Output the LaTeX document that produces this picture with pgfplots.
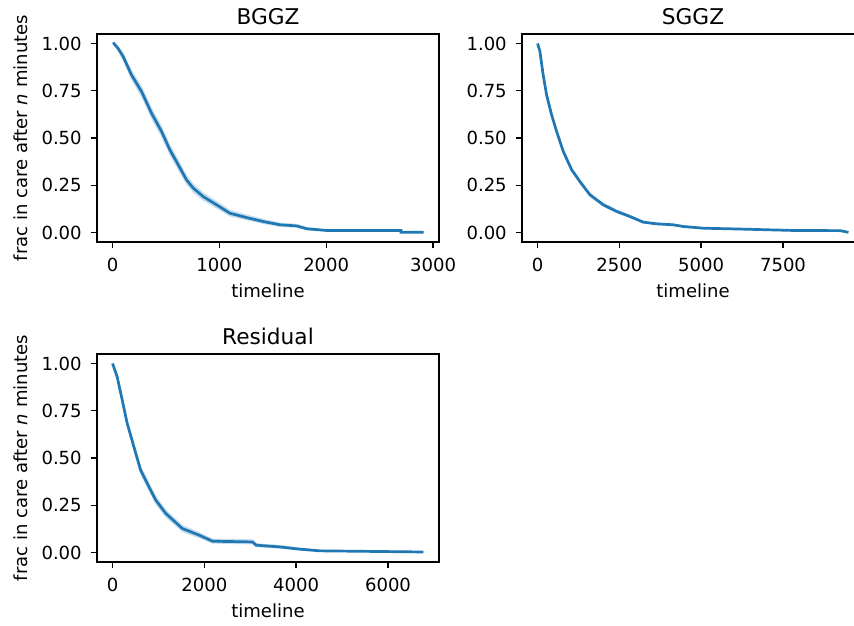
\documentclass[border=0pt]{standalone}
\usepackage{pgfplots}
\usepackage{pgfplotstable}
\pgfplotsset{compat=1.18}
\usepgfplotslibrary{fillbetween}
\usepackage{fontspec}
\setmainfont{DejaVu Sans}
\definecolor{tabblue}{HTML}{1F77B4}

% survival curves: time, estimate, lower and upper band
\pgfplotstableread{
t s lo hi
0 1.000 1.000 1.000
12 1.000 0.995 1.000
50 0.975 0.960 0.990
100 0.930 0.905 0.952
178 0.833 0.805 0.860
272 0.745 0.715 0.775
365 0.631 0.600 0.662
459 0.534 0.503 0.565
537 0.437 0.407 0.467
615 0.358 0.330 0.387
693 0.278 0.252 0.305
755 0.235 0.211 0.260
849 0.190 0.168 0.213
975 0.146 0.126 0.167
1099 0.102 0.085 0.120
1256 0.079 0.064 0.095
1412 0.058 0.045 0.072
1568 0.041 0.030 0.053
1724 0.035 0.025 0.046
1818 0.020 0.012 0.029
2005 0.011 0.005 0.018
2700 0.011 0.005 0.018
2700 0.002 0.000 0.006
2911 0.002 0.000 0.006
}\bggz

\pgfplotstableread{
t s lo hi
0 1.000 1.000 1.000
70 0.960 0.950 0.970
171 0.835 0.822 0.848
275 0.729 0.715 0.743
428 0.623 0.608 0.638
581 0.535 0.520 0.550
783 0.430 0.415 0.445
1039 0.333 0.319 0.347
1293 0.270 0.257 0.283
1599 0.200 0.188 0.212
2005 0.147 0.136 0.158
2414 0.112 0.102 0.122
2821 0.085 0.076 0.094
3228 0.055 0.048 0.063
3637 0.046 0.039 0.053
4144 0.041 0.034 0.048
4450 0.032 0.026 0.038
5061 0.023 0.018 0.029
6284 0.018 0.013 0.023
7812 0.011 0.007 0.016
9250 0.010 0.006 0.015
9500 0.001 0.000 0.005
}\sggz

\pgfplotstableread{
t s lo hi
0 1.000 1.000 1.000
100 0.930 0.915 0.945
208 0.810 0.790 0.830
317 0.685 0.662 0.708
464 0.560 0.535 0.585
610 0.437 0.412 0.462
755 0.366 0.341 0.391
939 0.278 0.255 0.302
1158 0.207 0.185 0.229
1521 0.127 0.108 0.146
1886 0.092 0.076 0.108
2177 0.060 0.047 0.074
3053 0.056 0.043 0.070
3127 0.039 0.028 0.050
3637 0.030 0.020 0.040
4075 0.018 0.011 0.026
4512 0.009 0.004 0.015
6772 0.003 0.000 0.007
}\resid

\pgfplotsset{km/.style={
  scale only axis, width=246.24pt, height=149.76pt, anchor=south west,
  ymin=-0.05, ymax=1.05, ytick={0,0.25,0.5,0.75,1},
  scaled x ticks=false,
  /pgf/number format/assume math mode=true,
  tick align=outside, tick pos=left, major tick length=4.55pt,
  every tick/.style={black, line width=1.04pt},
  axis line style={line width=1.04pt},
  xlabel=timeline,
  title style={font=\fontsize{15.6}{18}\selectfont, at={(axis description cs:0.5,1)}, anchor=base, yshift=0.5pt},
  label style={font=\fontsize{13}{15}\selectfont},
  xlabel style={at={(axis description cs:0.5,0)}, anchor=base, yshift=-40.3pt},
  ylabel style={at={(axis description cs:-0.2038,0.5)}, anchor=base},
  tick label style={font=\fontsize{13}{15}\selectfont, inner sep=0pt},
  xticklabel style={anchor=base, yshift=-16.85pt, /pgf/number format/1000 sep={}},
  yticklabel style={anchor=east, xshift=-6.25pt, /pgf/number format/.cd, fixed, fixed zerofill, precision=2},
}}

\begin{document}
\begin{tikzpicture}

\begin{axis}[km, at={(69.84pt,275.76pt)}, title=BGGZ,
  xmin=-145.5, xmax=3055.5, xtick={0,1000,2000,3000},
  ylabel={frac in care after \textit{n} minutes}]
  \addplot[draw=none, name path=hiA] table[x=t, y=hi]{\bggz};
  \addplot[draw=none, name path=loA] table[x=t, y=lo]{\bggz};
  \addplot[fill=tabblue, fill opacity=0.25, draw=none] fill between[of=hiA and loA];
  \addplot[tabblue, line width=1.95pt] table[x=t, y=s]{\bggz};
\end{axis}

\begin{axis}[km, at={(375.84pt,275.76pt)}, title=SGGZ,
  xmin=-475, xmax=9975, xtick={0,2500,5000,7500}]
  \addplot[draw=none, name path=hiB] table[x=t, y=hi]{\sggz};
  \addplot[draw=none, name path=loB] table[x=t, y=lo]{\sggz};
  \addplot[fill=tabblue, fill opacity=0.25, draw=none] fill between[of=hiB and loB];
  \addplot[tabblue, line width=1.95pt] table[x=t, y=s]{\sggz};
\end{axis}

\begin{axis}[km, at={(69.84pt,45.36pt)}, title=Residual,
  xmin=-338.6, xmax=7110.6, xtick={0,2000,4000,6000},
  ylabel={frac in care after \textit{n} minutes}]
  \addplot[draw=none, name path=hiC] table[x=t, y=hi]{\resid};
  \addplot[draw=none, name path=loC] table[x=t, y=lo]{\resid};
  \addplot[fill=tabblue, fill opacity=0.25, draw=none] fill between[of=hiC and loC];
  \addplot[tabblue, line width=1.95pt] table[x=t, y=s]{\resid};
\end{axis}

\pgfresetboundingbox
\useasboundingbox (0,0) rectangle (614.88pt,450pt);
\end{tikzpicture}
\end{document}
